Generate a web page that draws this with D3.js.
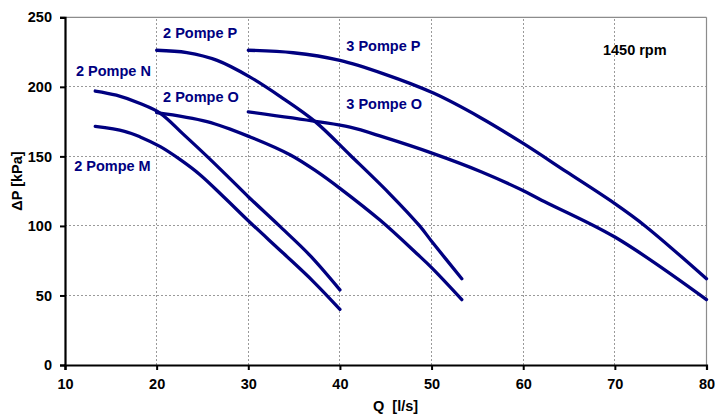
<!DOCTYPE html>
<html>
<head>
<meta charset="utf-8">
<script src="https://cdn.jsdelivr.net/npm/d3@7"></script>
<style>
  html, body { margin: 0; padding: 0; background: #fff; }
  svg { display: block; }
  text { font-family: "Liberation Sans", Arial, sans-serif; font-weight: bold; }
</style>
</head>
<body>
<svg id="chart" width="715" height="416"></svg>
<script>
// ---- data ----
const xTicks = [10, 20, 30, 40, 50, 60, 70, 80];
const yTicks = [0, 50, 100, 150, 200, 250];

const pompe2M = [[13.3,171.5],[16.5,168],[18.2,164],[20.4,157],[22.5,148],[24.7,137],[27.3,121],[30.2,102.5],[33.8,80.5],[37.1,60],[40,40]];
const pompe2N = [[13.3,197],[15.6,194],[18.2,188],[20.4,181],[22.9,166],[25.5,150],[28,134],[30,121],[33.4,100],[36.7,79],[40,54]];
const pompe2O = [[20,181.5],[25.5,175],[30.2,164],[34.6,151],[37.5,139],[40,127],[44.4,104],[48.4,80],[50,70],[53.3,47]];
const pompe2P = [[20,226.3],[23.3,224.6],[26.6,219],[30.2,207],[33.5,193],[37.3,175],[41.1,151],[45.3,124],[48.7,100],[50,89],[53.3,62]];
const pompe3O = [[30,182],[37.5,175],[41.1,171],[44.7,164],[50.2,152],[55.4,139],[59.8,126],[62,118.5],[70,92],[80,47]];
const pompe3P = [[30,226.3],[34.9,224.5],[40,219],[44.7,209.5],[50.2,195.5],[55.3,178],[60,159.3],[64.7,139],[70,116],[73.3,100],[80,62]];

const seriesList = [pompe2M, pompe2N, pompe2O, pompe2P, pompe3O, pompe3P];

const labelTexts = ["2 Pompe P", "2 Pompe N", "2 Pompe O", "2 Pompe M", "3 Pompe P", "3 Pompe O"];
const labelQ = [20.7, 11.2, 20.7, 11.0, 40.7, 40.7];
const labelP = [238.5, 211.2, 192.5, 143.1, 229.4, 188];

const rpmText = "1450 rpm";
const rpmQ = 68.7, rpmP = 226.3;

// ---- layout ----
const W = 715, H = 416;
const margin = { left: 65, right: 8.5, top: 17.3, bottom: 51 };
const svg = d3.select("#chart");

const x = d3.scaleLinear().domain([10, 80]).range([margin.left, W - margin.right]);
const y = d3.scaleLinear().domain([0, 250]).range([H - margin.bottom, margin.top]);

const navy = "#000080";
const fs = "14.5px";

// gridlines
const grid = svg.append("g");
grid.selectAll("line.vx").data(xTicks.slice(1, -1)).enter().append("line")
  .attr("x1", d => x(d)).attr("x2", d => x(d))
  .attr("y1", y(0)).attr("y2", y(250))
  .attr("stroke", "#9a9a9a").attr("stroke-width", 1).attr("stroke-dasharray", "2,2")
  .attr("shape-rendering", "crispEdges");
grid.selectAll("line.hy").data(yTicks.slice(1, -1)).enter().append("line")
  .attr("x1", x(10)).attr("x2", x(80))
  .attr("y1", d => y(d)).attr("y2", d => y(d))
  .attr("stroke", "#9a9a9a").attr("stroke-width", 1).attr("stroke-dasharray", "2,2")
  .attr("shape-rendering", "crispEdges");

// top and right frame
svg.append("line").attr("x1", x(10)).attr("x2", x(80)).attr("y1", y(250)).attr("y2", y(250))
  .attr("stroke", "#8c8c8c").attr("stroke-width", 1.2);
svg.append("line").attr("x1", x(80)).attr("x2", x(80)).attr("y1", y(250)).attr("y2", y(0))
  .attr("stroke", "#8c8c8c").attr("stroke-width", 1.2);

// curves
const line = d3.line().x(d => x(d[0])).y(d => y(d[1])).curve(d3.curveCatmullRom.alpha(0.5));
svg.append("g").selectAll("path").data(seriesList).enter().append("path")
  .attr("d", line)
  .attr("fill", "none").attr("stroke", navy).attr("stroke-width", 3.3)
  .attr("stroke-linecap", "round").attr("stroke-linejoin", "round");

// axes
const xAxis = svg.append("g").attr("transform", `translate(0,${y(0)})`)
  .call(d3.axisBottom(x).tickValues(xTicks).tickSize(5).tickPadding(9).tickFormat(d3.format("d")));
const yAxis = svg.append("g").attr("transform", `translate(${x(10)},0)`)
  .call(d3.axisLeft(y).tickValues(yTicks).tickSize(5).tickPadding(8).tickFormat(d3.format("d")));
[xAxis, yAxis].forEach(a => {
  a.select(".domain").attr("stroke", "#000").attr("stroke-width", 2.2);
  a.selectAll(".tick line").attr("stroke", "#000").attr("stroke-width", 2);
  a.selectAll(".tick text").attr("fill", "#000").style("font-size", fs)
    .style("font-family", "'Liberation Sans', Arial, sans-serif").style("font-weight", "bold");
});

// axis titles
svg.append("text").attr("x", 373).attr("y", 411).attr("fill", "#000").style("font-size", fs)
  .attr("xml:space", "preserve").text("Q  [l/s]");
svg.append("text").attr("transform", `translate(22,181) rotate(-90)`).attr("text-anchor", "middle")
  .attr("fill", "#000").style("font-size", fs).text("ΔP [kPa]");

// series labels
svg.append("g").selectAll("text").data(labelTexts).enter().append("text")
  .attr("x", (d, i) => x(labelQ[i])).attr("y", (d, i) => y(labelP[i]))
  .attr("dy", "0.35em").attr("fill", navy).style("font-size", fs)
  .text(d => d);

svg.append("text").attr("x", x(rpmQ)).attr("y", y(rpmP)).attr("dy", "0.35em")
  .attr("fill", "#000").style("font-size", fs).text(rpmText);
</script>
</body>
</html>
